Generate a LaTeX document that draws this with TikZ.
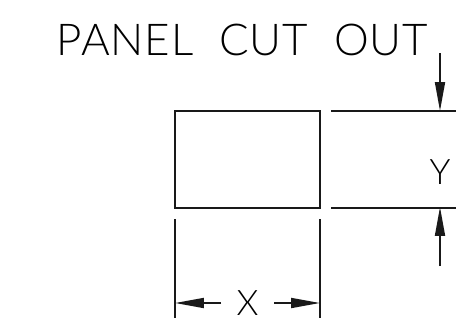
\documentclass[tikz,border=0pt]{standalone}
\usepackage{fontspec}
\setmainfont{Lato Light}
\usetikzlibrary{arrows.meta}
\tikzset{
	cadline/.style={line width=1pt,black!90},
	dimarrow/.style={cadline,-{Triangle[length=0.58cm,width=0.2cm]}},
	cadtext/.style={inner sep=0pt,text=black}
}
\begin{document}
\begin{tikzpicture}[x=0.02cm,y=-0.02cm]
	\useasboundingbox (0,0) rectangle (474,335);

	%%cut out
	\draw [cadline] (175,111) rectangle (320,208);

	%%extension lines
	\coordinate (topL) at (331,111);
	\coordinate (topR) at (456,111);
	\coordinate (botL) at (331,208);
	\coordinate (botR) at (456,208);
	\coordinate (leftT) at (175,219);
	\coordinate (leftB) at (175,318);
	\coordinate (rightT) at (320,219);
	\coordinate (rightB) at (320,318);
	\draw [cadline] (topL) -- (topR);
	\draw [cadline] (botL) -- (botR);
	\draw [cadline] (leftT) -- (leftB);
	\draw [cadline] (rightT) -- (rightB);

	%%labels
	\node [cadtext,font=\fontsize{25}{25}\selectfont] (title) at (242.5,40) {\addfontfeature{LetterSpace=2}PANEL\hspace{0.52cm}CUT\hspace{0.52cm}OUT};
	\node [cadtext,font=\fontsize{20}{20}\selectfont] (labelX) at (247.5,303) {X};
	\node [cadtext,font=\fontsize{20}{20}\selectfont] (labelY) at (440,172) {Y};

	%%dimension arrows
	\coordinate (xTailL) at (221,303);
	\coordinate (xHeadL) at (175,303);
	\coordinate (xTailR) at (274,303);
	\coordinate (xHeadR) at (320,303);
	\coordinate (yTailT) at (440,53);
	\coordinate (yHeadT) at (440,111);
	\coordinate (yTailB) at (440,266);
	\coordinate (yHeadB) at (440,207);
	\draw [dimarrow] (xTailL) -- (xHeadL);
	\draw [dimarrow] (xTailR) -- (xHeadR);
	\draw [dimarrow] (yTailT) -- (yHeadT);
	\draw [dimarrow] (yTailB) -- (yHeadB);

\end{tikzpicture}
\end{document}
